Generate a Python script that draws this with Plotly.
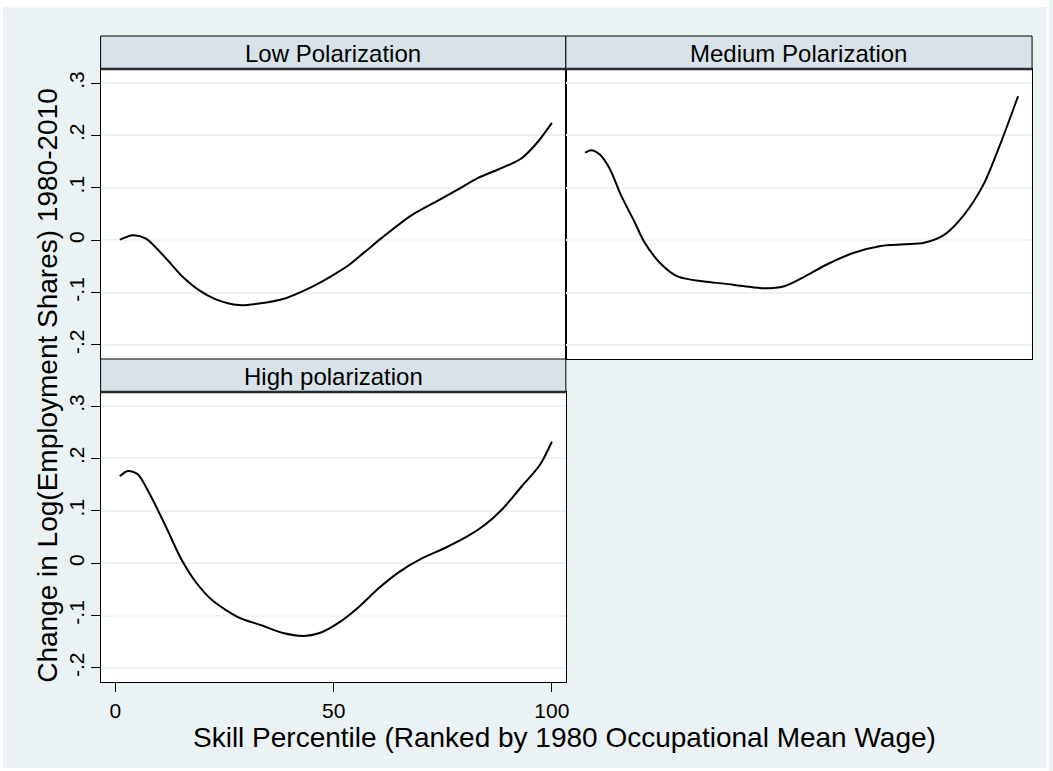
import plotly.graph_objects as go

# ---------------- data ----------------
low_x = [1, 4, 7, 11.6, 15.4, 19.2, 23, 28.3, 32.9, 38.2, 44.3, 49.6, 53.4, 57.2,
         61.8, 67.9, 74, 78.5, 83.1, 87.7, 93, 96.8, 100]
low_y = [0.001, 0.0096, 0.003, -0.035, -0.070, -0.096, -0.113, -0.124, -0.121, -0.113,
         -0.092, -0.068, -0.048, -0.022, 0.0096, 0.048, 0.076, 0.097, 0.119, 0.135,
         0.156, 0.188, 0.224]

med_x = [1, 2.4, 4.3, 6.6, 9.2, 12.3, 14.5, 18.3, 22.1, 28.2, 32.8, 37.4, 41.9, 46.5,
         51.1, 56.4, 62.5, 68.6, 73.9, 78.5, 83, 87.6, 92.2, 96, 100]
med_y = [0.167, 0.172, 0.164, 0.137, 0.086, 0.035, -0.003, -0.045, -0.069, -0.079,
         -0.083, -0.088, -0.092, -0.088, -0.070, -0.046, -0.024, -0.011, -0.008,
         -0.005, 0.0096, 0.048, 0.108, 0.185, 0.275]

high_x = [1, 2.8, 5.1, 7.8, 11.6, 15, 18.4, 22.2, 28.3, 33.6, 38.2, 43.2, 46.6, 51.1,
          55.7, 60.3, 64.8, 70.2, 75.5, 80.8, 84.6, 88.4, 93, 97.2, 100]
high_y = [0.166, 0.176, 0.170, 0.133, 0.069, 0.009, -0.036, -0.071, -0.104, -0.119,
          -0.133, -0.139, -0.134, -0.114, -0.084, -0.048, -0.018, 0.009, 0.029, 0.052,
          0.073, 0.101, 0.146, 0.187, 0.232]

panel_titles = ["Low Polarization", "Medium Polarization", "High polarization"]
y_tickvals = [-0.2, -0.1, 0, 0.1, 0.2, 0.3]
y_ticktext = ["-.2", "-.1", "0", ".1", ".2", ".3"]
x_tickvals = [0, 50, 100]
x_ticktext = ["0", "50", "100"]
x_title = "Skill Percentile (Ranked by 1980 Occupational Mean Wage)"
y_title = "Change in Log(Employment Shares) 1980-2010"

# ---------------- layout geometry (pixels) ----------------
W, H = 1053, 771
FONT = "Liberation Sans, Arial, sans-serif"
BG = "#EAF2F3"
STRIP = "#D7E3E9"


def px(xp):
    return xp / W


def py(yp):
    return 1 - yp / H


L0, L1, R1 = 101, 568, 1036
T_HDR, T_TOP, T_BOT = 36, 69, 359
B_TOP, B_BOT = 392, 682

xrange_ = [-3.4, 103.2]
yrange_ = [-0.227, 0.327]

fig = go.Figure()
line = dict(color="black", width=2, shape="spline", smoothing=0.8)
fig.add_trace(go.Scatter(x=low_x, y=low_y, mode="lines", line=line,
                         xaxis="x", yaxis="y", showlegend=False, hoverinfo="skip"))
fig.add_trace(go.Scatter(x=med_x, y=med_y, mode="lines", line=line,
                         xaxis="x2", yaxis="y2", showlegend=False, hoverinfo="skip"))
fig.add_trace(go.Scatter(x=high_x, y=high_y, mode="lines", line=line,
                         xaxis="x3", yaxis="y3", showlegend=False, hoverinfo="skip"))

axis_common = dict(showline=True, mirror=True, linecolor="black", linewidth=1,
                   zeroline=False, fixedrange=True)

yax = dict(axis_common, range=yrange_, tickvals=y_tickvals, ticktext=y_ticktext,
           showgrid=True, gridcolor=BG, gridwidth=2)
xax = dict(axis_common, range=xrange_, showgrid=False, tickvals=x_tickvals,
           ticktext=x_ticktext)

tickfont = dict(family=FONT, size=21, color="black")

fig.update_layout(
    width=W, height=H,
    margin=dict(l=0, r=0, t=0, b=0),
    paper_bgcolor=BG, plot_bgcolor="white",
    xaxis=dict(xax, domain=[px(L0), px(L1)], anchor="y", ticks="", showticklabels=False),
    yaxis=dict(yax, domain=[py(T_BOT), py(T_TOP)], anchor="x", ticks="outside",
               ticklen=9, tickcolor="black", tickwidth=1, tickangle=-90,
               tickfont=tickfont, ticklabelstandoff=-2),
    xaxis2=dict(xax, domain=[px(L1), px(R1)], anchor="y2", ticks="", showticklabels=False),
    yaxis2=dict(yax, domain=[py(T_BOT), py(T_TOP)], anchor="x2", ticks="",
                showticklabels=False),
    xaxis3=dict(xax, domain=[px(L0), px(L1)], anchor="y3", ticks="outside",
                ticklen=9, tickcolor="black", tickwidth=1, tickfont=tickfont,
                ticklabelstandoff=1),
    yaxis3=dict(yax, domain=[py(B_BOT), py(B_TOP)], anchor="x3", ticks="outside",
                ticklen=9, tickcolor="black", tickwidth=1, tickangle=-90,
                tickfont=tickfont, ticklabelstandoff=-2),
)

shapes = []
# white outer frame
for (x0, x1, y0, y1) in [(0, 3, 0, H), (W - 3, W, 0, H), (0, W, 0, 7), (0, W, H - 3, H)]:
    shapes.append(dict(type="rect", xref="paper", yref="paper",
                       x0=px(x0), x1=px(x1), y0=py(y1), y1=py(y0),
                       fillcolor="white", line=dict(width=0), layer="above"))
# strip headers
headers = [(L0, L1, T_HDR, T_TOP), (L1, R1, T_HDR, T_TOP), (L0, L1, T_BOT, B_TOP)]
for (x0, x1, y0, y1) in headers:
    shapes.append(dict(type="rect", xref="paper", yref="paper",
                       x0=px(x0), x1=px(x1), y0=py(y1), y1=py(y0),
                       fillcolor=STRIP, line=dict(color="black", width=1), layer="above"))
    shapes.append(dict(type="line", xref="paper", yref="paper",
                       x0=px(x0), x1=px(x1), y0=py(y1), y1=py(y1),
                       line=dict(color="#2a2a2a", width=2.5), layer="above"))

annotations = []
for (x0, x1, y0, y1), t in zip(headers, panel_titles):
    annotations.append(dict(text=t, xref="paper", yref="paper", x=px((x0 + x1) / 2),
                            y=py((y0 + y1) / 2 + 1), xanchor="center", yanchor="middle",
                            showarrow=False, font=dict(family=FONT, size=24, color="black")))

annotations.append(dict(text=x_title, xref="paper", yref="paper", x=px(567), y=py(737),
                        xanchor="center", yanchor="middle", showarrow=False,
                        font=dict(family=FONT, size=28, color="black")))
annotations.append(dict(text=y_title, xref="paper", yref="paper", x=px(47), y=py(385),
                        xanchor="center", yanchor="middle", showarrow=False, textangle=-90,
                        font=dict(family=FONT, size=28, color="black")))

fig.update_layout(shapes=shapes, annotations=annotations)

fig.write_html("out.html", config={"displayModeBar": False},
               post_script="document.body.style.margin='0';document.body.style.padding='0';")
